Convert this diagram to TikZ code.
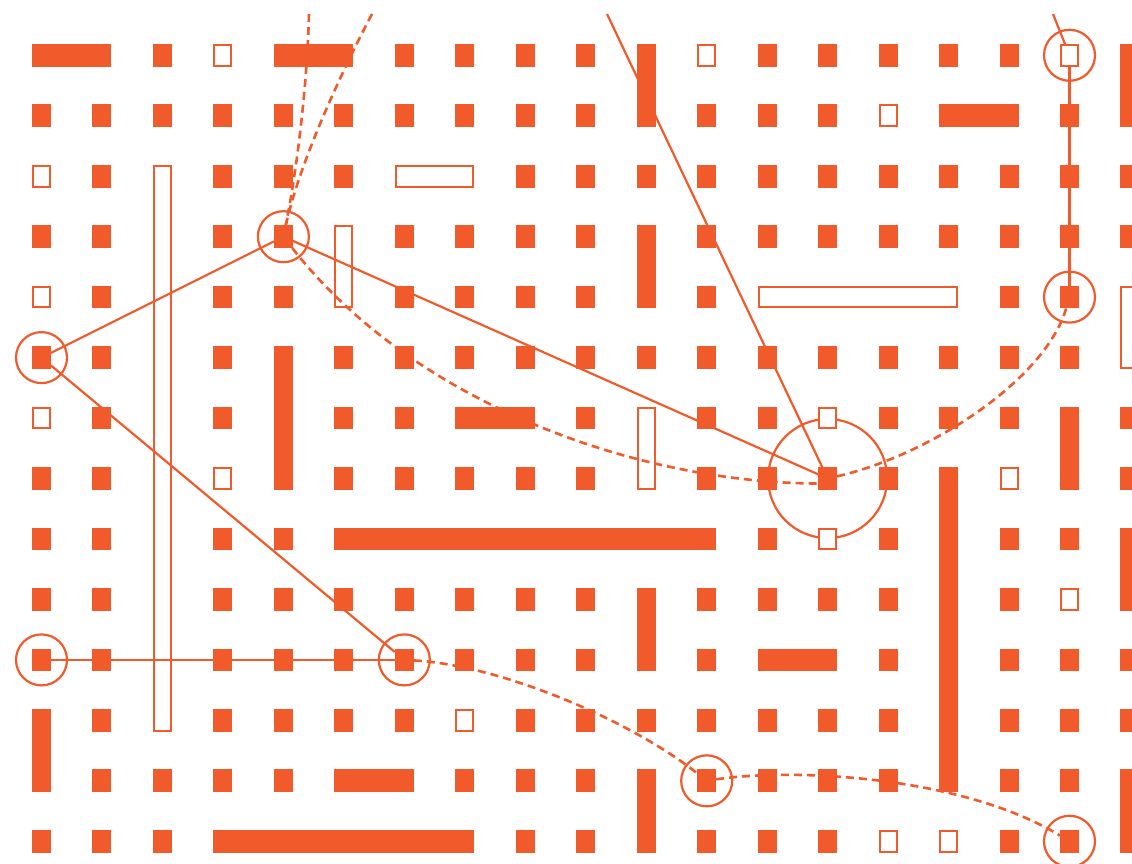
\documentclass[tikz,border=0pt]{standalone}
\definecolor{org}{HTML}{F15A2B}
\tikzset{
  sq/.style={rectangle, fill=org, draw=none, minimum width=19pt, minimum height=22.7pt, inner sep=0pt, outer sep=0pt},
  osq/.style={rectangle, draw=org, fill=white, line width=2pt, minimum width=17pt, minimum height=20.7pt, inner sep=0pt, outer sep=0pt},
  ring/.style={draw=org, line width=2.2pt},
  link/.style={draw=org, line width=2.2pt},
  dlink/.style={draw=org, line width=2.6pt, dash pattern=on 8pt off 5pt},
  obar/.style={draw=org, fill=white, line width=2pt},
}
\newcommand\myfbh[3]{\fill[org] ({41.5+60.47*#1-9.5},{55.3+60.46*#3-11.35}) rectangle ({41.5+60.47*#2+9.5},{55.3+60.46*#3+11.35});}
\newcommand\myfbv[3]{\fill[org] ({41.5+60.47*#1-9.5},{55.3+60.46*#2-11.35}) rectangle ({41.5+60.47*#1+9.5},{55.3+60.46*#3+11.35});}
\newcommand\myobh[3]{\path[obar] ({41.5+60.47*#1-8.5},{55.3+60.46*#3-10.35}) rectangle ({41.5+60.47*#2+8.5},{55.3+60.46*#3+10.35});}
\newcommand\myobv[3]{\path[obar] ({41.5+60.47*#1-8.5},{55.3+60.46*#2-10.35}) rectangle ({41.5+60.47*#1+8.5},{55.3+60.46*#3+10.35});}
\begin{document}
\begin{tikzpicture}[x=1pt,y=-1pt]
\clip (0,0) rectangle (1132,864);
\fill[white] (0,0) rectangle (1132,864);
% connected squares
\node[sq] (A) at ({41.5+60.47*4},{55.3+60.46*3}) {};
\node[sq] (B) at ({41.5+60.47*0},{55.3+60.46*5}) {};
\node[sq] (C) at ({41.5+60.47*0},{55.3+60.46*10}) {};
\node[sq] (D) at ({41.5+60.47*6},{55.3+60.46*10}) {};
\node[sq] (E) at ({41.5+60.47*11},{55.3+60.46*12}) {};
\node[osq] (F) at ({41.5+60.47*17},{55.3+60.46*0}) {};
\node[sq] (G) at ({41.5+60.47*17},{55.3+60.46*4}) {};
\node[sq] (H) at ({41.5+60.47*17},{55.3+60.46*13}) {};
\node[sq] (M) at ({41.5+60.47*13},{55.3+60.46*7}) {};
% rings
\foreach \n in {A,B,C,D,E,F,G,H} {\draw[ring] (\n) circle[radius=25.5pt];}
\draw[ring] (M) circle[radius=59.5pt];
% filled squares
\foreach \r/\cs in {
  0/{2,6,7,8,9,12,13,14,15,16},
  1/{0,1,2,3,4,5,6,7,8,9,11,12,13,17},
  2/{1,3,4,5,8,9,10,11,12,13,14,15,16,17,18},
  3/{0,1,3,6,7,8,9,11,12,13,14,15,16,17,18},
  4/{1,3,4,6,7,8,9,11,16},
  5/{1,3,5,6,7,8,9,10,11,12,13,14,15,16,17},
  6/{1,3,5,6,9,11,12,14,15,16,18},
  7/{0,1,5,6,7,8,9,11,12,14,18},
  8/{0,1,3,4,12,14,16,17},
  9/{0,1,3,4,5,6,7,8,9,11,12,13,14,16},
  10/{1,3,4,5,7,8,9,11,14,16,17,18},
  11/{1,3,4,5,6,8,9,10,11,12,13,14,16,17,18},
  12/{1,2,3,4,7,8,9,12,13,14,16,17},
  13/{0,1,2,8,9,11,12,13,16}} {
  \foreach \c in \cs {\node[sq] (s\c-\r) at ({41.5+60.47*\c},{55.3+60.46*\r}) {};}
}
% outlined squares
\foreach \r/\cs in {0/{3,11}, 1/{14}, 2/{0}, 4/{0}, 6/{0,13}, 7/{3,16}, 8/{13}, 9/{17}, 11/{7}, 13/{14,15}} {
  \foreach \c in \cs {\node[osq] (o\c-\r) at ({41.5+60.47*\c},{55.3+60.46*\r}) {};}
}
% filled bars
\myfbh{0}{1}{0}\myfbh{4}{5}{0}\myfbh{15}{16}{1}\myfbh{7}{8}{6}
\myfbh{5}{11}{8}\myfbh{12}{13}{10}\myfbh{5}{6}{12}\myfbh{3}{7}{13}
\myfbv{10}{0}{1}\myfbv{18}{0}{1}\myfbv{10}{3}{4}\myfbv{4}{5}{7}
\myfbv{17}{6}{7}\myfbv{15}{7}{12}\myfbv{18}{8}{9}\myfbv{10}{9}{10}
\myfbv{0}{11}{12}\myfbv{10}{12}{13}\myfbv{18}{12}{13}
% outlined bars
\myobh{6}{7}{2}\myobh{12}{15}{4}
\myobv{2}{2}{11}\myobv{5}{3}{4}\myobv{18}{4}{5}\myobv{10}{6}{7}
% free ends at the top
\coordinate (T1) at (607,14);
\coordinate (T2) at (1053,14);
\coordinate (T3) at (309,14);
\coordinate (T4) at (372,14);
% solid links
\draw[link] (A) -- (B);
\draw[link] (A) -- (M);
\draw[link] (B) -- (D);
\draw[link] (C) -- (D);
\draw[link] (F) -- (G);
\draw[link] (T1) -- (M);
\draw[link] (T2) -- (F);
% dashed links
\draw[dlink] (T3) .. controls (307,90) and (296,175) .. (A);
\draw[dlink] (T4) .. controls (345,65) and (300,160) .. (A);
\draw[dlink] (A) .. controls (415,405) and (640,483) .. ([yshift=-5pt]M.west);
\draw[dlink] (M) .. controls (930,455) and (1045,380) .. (G);
\draw[dlink] (D) .. controls (500,665) and (630,720) .. (E);
\draw[dlink] (E) .. controls (790,768) and (960,775) .. (H);
\end{tikzpicture}
\end{document}
